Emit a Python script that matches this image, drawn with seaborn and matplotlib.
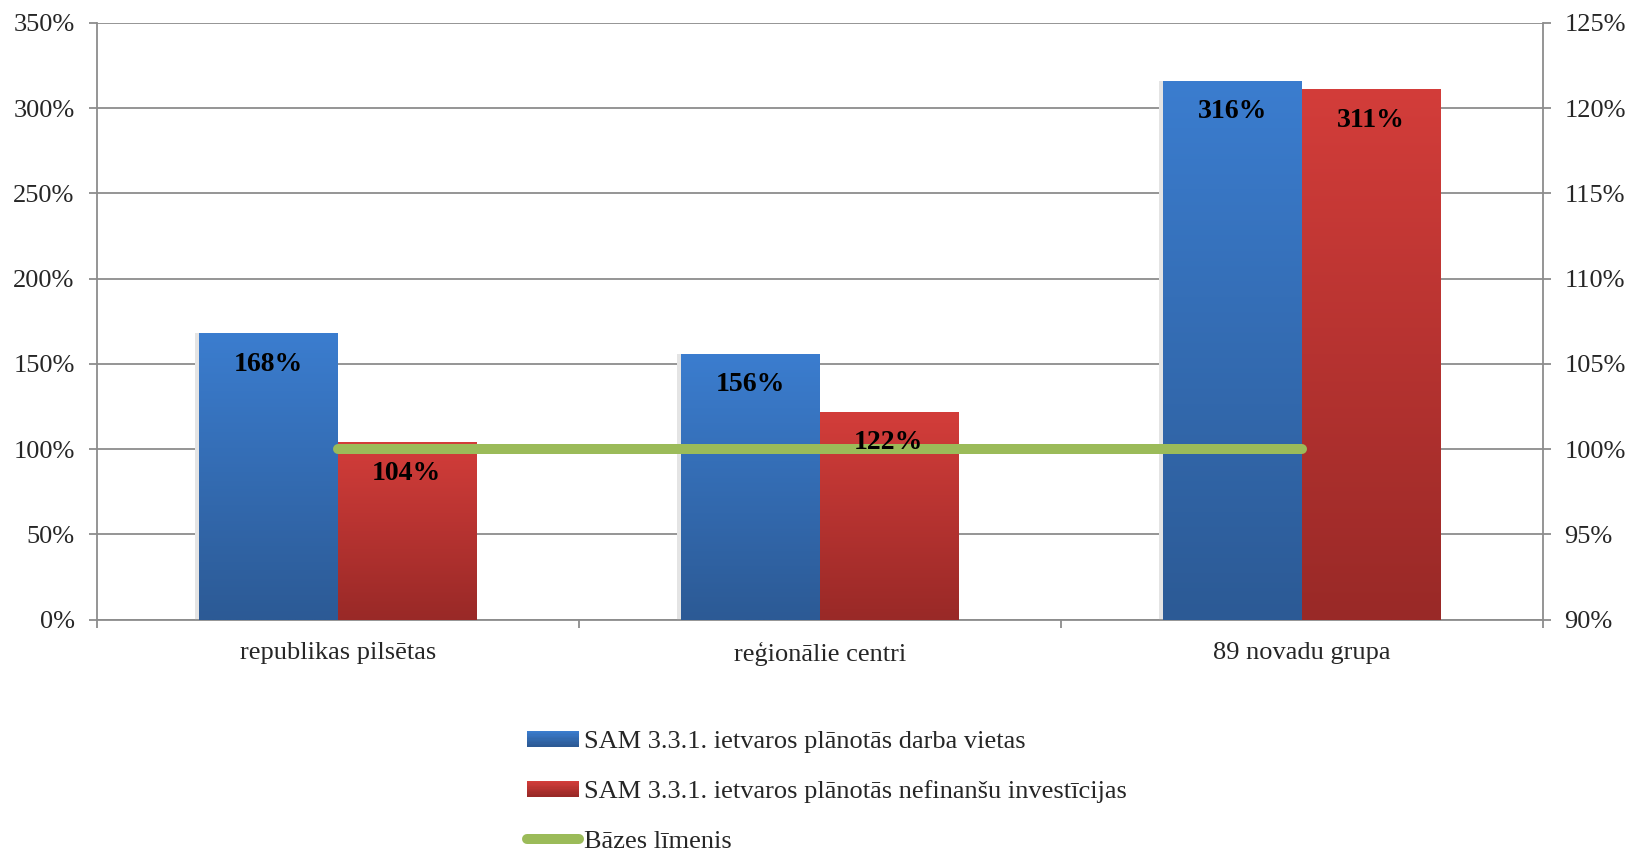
import numpy as np
import pandas as pd
import matplotlib
matplotlib.use("Agg")
import matplotlib.pyplot as plt
import seaborn as sns
from matplotlib.ticker import FuncFormatter, MultipleLocator
from matplotlib.patches import Rectangle
from matplotlib.lines import Line2D
from matplotlib.legend_handler import HandlerBase

categories = ["republikas pilsētas", "reģionālie centri", "89 novadu grupa"]
series_names = ["SAM 3.3.1. ietvaros plānotās darba vietas",
                "SAM 3.3.1. ietvaros plānotās nefinanšu investīcijas"]
jobs = [168, 156, 316]
invest = [104, 122, 311]
base_name = "Bāzes līmenis"
base = [100, 100, 100]

sns.set_theme(style="white")
plt.rcParams['font.family'] = ['Liberation Serif', 'DejaVu Serif']

df = pd.DataFrame({
    "cat": categories * 2,
    "series": [series_names[0]] * 3 + [series_names[1]] * 3,
    "value": jobs + invest,
})

blue_top, blue_bot = np.array([0x3B, 0x7D, 0xCF]) / 255, np.array([0x2C, 0x5A, 0x95]) / 255
red_top, red_bot = np.array([0xD3, 0x3D, 0x3A]) / 255, np.array([0x99, 0x29, 0x27]) / 255


class GradientHandle:
    def __init__(self, top, bot):
        self.top, self.bot = top, bot


class GradientHandler(HandlerBase):
    def create_artists(self, legend, orig_handle, xdescent, ydescent, width, height, fontsize, trans):
        n = 12
        arts = []
        for k in range(n):
            t = k / (n - 1)
            c = orig_handle.top * (1 - t) + orig_handle.bot * t
            y = -ydescent + height * (1 - (k + 1) / n)
            arts.append(Rectangle((-xdescent, y), width, height / n + 0.3, color=c, lw=0, transform=trans))
        return arts


FS = 19
fig = plt.figure(figsize=(16.3, 8.5), dpi=100)
ax = fig.add_axes([0.0593, 0.271, 0.8871, 0.702])

sns.barplot(data=df, x="cat", y="value", hue="series", order=categories,
            hue_order=series_names, palette=["#3470B8", "#BC3633"],
            width=0.574, gap=0, saturation=1, legend=False, ax=ax, zorder=3,
            linewidth=0, err_kws={'linewidth': 0})

ax.set_ylim(0, 350)
ax.set_xlim(-0.5, 2.5)

bar_geom = []
# gradient overlays on the seaborn bars
for i, p in enumerate(ax.patches):
    x0, y0 = p.get_x(), p.get_y()
    w, h = p.get_width(), p.get_height()
    is_blue = i < 3
    top, bot = (blue_top, blue_bot) if is_blue else (red_top, red_bot)
    t = np.linspace(0, 1, 256)[:, None]
    grad = top[None, :] * (1 - t) + bot[None, :] * t
    img = grad[:, None, :]
    if is_blue:
        ax.add_patch(Rectangle((x0 - 0.008, y0), 0.008, h, color="#E4E4E4", zorder=2.5, lw=0))
    ax.imshow(img, extent=[x0, x0 + w, y0, y0 + h], aspect='auto', zorder=3.5,
              interpolation='bilinear')
    bar_geom.append((x0 + w / 2, y0 + h))

ax.set_ylim(0, 350)
ax.set_xlim(-0.5, 2.5)
ax.yaxis.set_major_locator(MultipleLocator(50))
ax.yaxis.set_major_formatter(FuncFormatter(lambda v, _: f"{int(v)}%"))
ax.grid(axis='y', color='#8C8C8C', linewidth=1.3, zorder=0)
ax.set_axisbelow(True)
ax.set_xlabel("")
ax.set_ylabel("")
ax.set_xticks(range(len(categories)))
ax.set_xticklabels(categories, fontsize=FS)
ax.set_xticks([-0.5, 0.5, 1.5, 2.5], minor=True)
ax.tick_params(axis='x', which='major', length=0, pad=16)
ax.tick_params(axis='x', which='minor', length=5.8, color='#8C8C8C', width=1.3, direction='out', bottom=True)
ax.tick_params(axis='y', labelsize=FS, length=5.8, color='#8C8C8C', width=1.3, direction='out', left=True, pad=10)
for s in ['top', 'right']:
    ax.spines[s].set_visible(False)
for s in ['left', 'bottom']:
    ax.spines[s].set_color('#8C8C8C')
    ax.spines[s].set_linewidth(1.3)

ax2 = ax.twinx()
sns.lineplot(x=list(range(len(categories))), y=base, ax=ax2, color="#9BBB59",
             linewidth=7.2, solid_capstyle='round', zorder=5)
ax2.set_ylim(90, 125)
ax2.yaxis.set_major_locator(MultipleLocator(5))
ax2.yaxis.set_major_formatter(FuncFormatter(lambda v, _: f"{int(v)}%"))
ax2.tick_params(axis='y', labelsize=FS, length=5.8, color='#8C8C8C', width=1.3, direction='out', right=True, pad=10)
ax2.set_ylabel("")
for s in ['top', 'left', 'bottom']:
    ax2.spines[s].set_visible(False)
ax2.spines['right'].set_color('#8C8C8C')
ax2.spines['right'].set_linewidth(1.3)
ax2.set_xlim(-0.5, 2.5)

# value labels drawn above the base line
for (xc, yt) in bar_geom:
    ax2.annotate(f"{int(round(yt))}%", (xc, yt), xycoords=ax.transData, xytext=(0, -31),
                 textcoords='offset pixels', ha='center', va='center',
                 fontsize=20, fontweight='bold', color='black', zorder=10)

h_blue = GradientHandle(blue_top, blue_bot)
h_red = GradientHandle(red_top, red_bot)
h_line = Line2D([0], [0], color="#9BBB59", linewidth=7.2, solid_capstyle='round')
leg = fig.legend([h_blue, h_red, h_line], series_names + [base_name], loc='upper left',
                 bbox_to_anchor=(0.3233, 0.140), frameon=False, fontsize=FS,
                 handlelength=1.97, handleheight=0.53, handletextpad=0.19,
                 labelspacing=1.03, borderaxespad=0, borderpad=0,
                 handler_map={GradientHandle: GradientHandler()})

fig.savefig("out.png", dpi=100, facecolor='white')
